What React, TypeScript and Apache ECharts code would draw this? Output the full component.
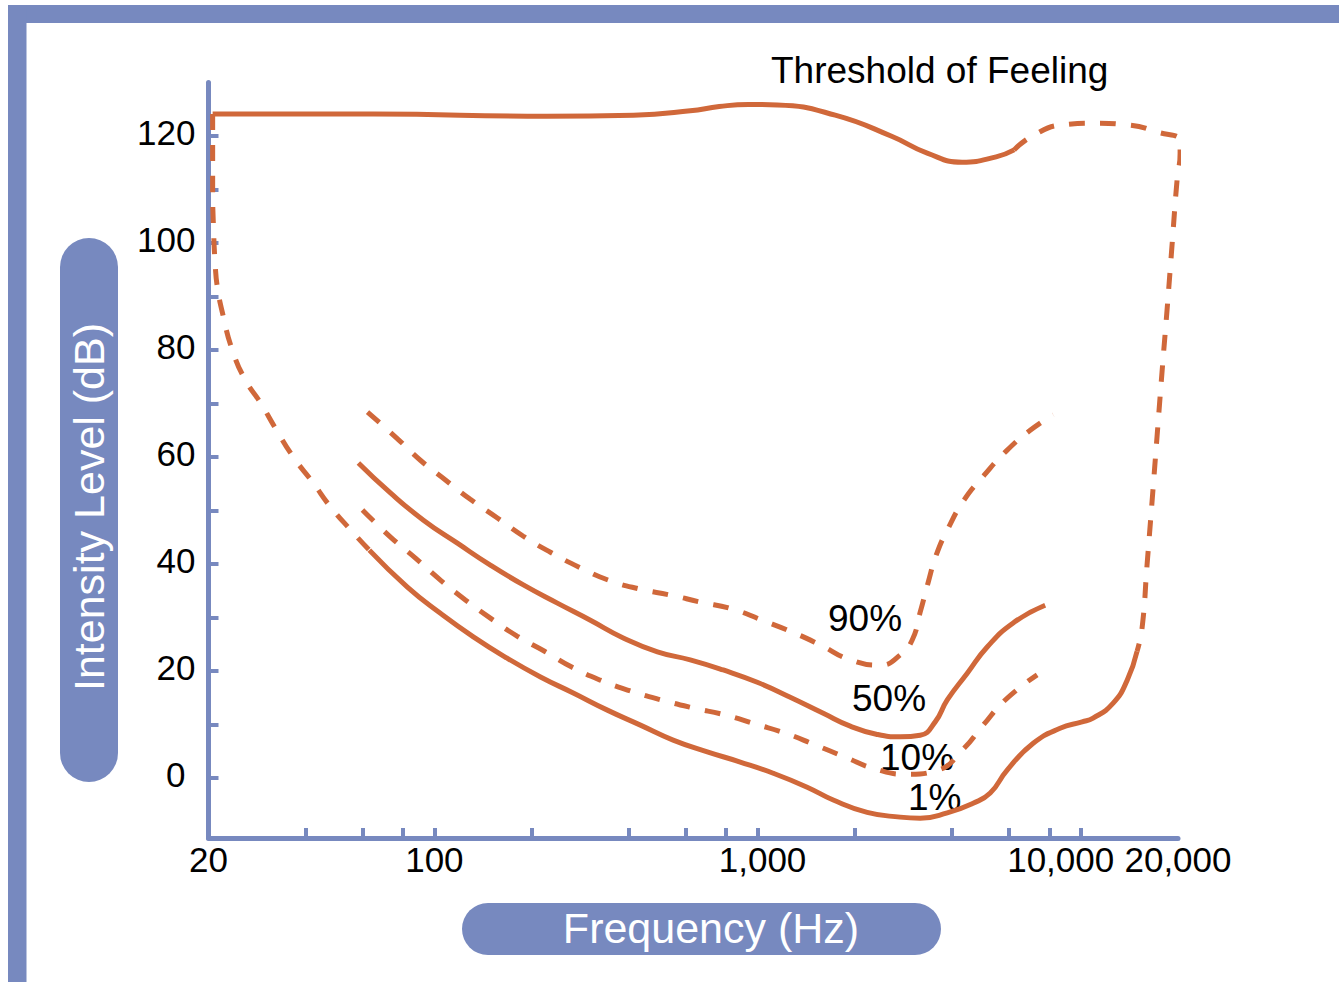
import React, { useEffect, useRef } from 'react';
import * as echarts from 'echarts';

// Threshold of feeling (solid, measured part)
const feelingHz = [20.6, 64.8, 222, 413, 619, 761, 936, 1151, 1739, 2610, 3350, 4296, 5474, 6222];
const feelingDb = [124.1, 124.1, 123.7, 123.9, 124.7, 125.5, 125.9, 125.8, 123.9, 119.9, 116.8, 115.1, 116.1, 117.4];

// Threshold of feeling / high-frequency edge (dashed, extrapolated)
const feelingDashHz = [6222, 7128, 8820, 11080, 13930, 17350, 20300, 20300, 19870, 19170, 18500, 17860, 17230, 16630, 16040, 15480, 14940];
const feelingDashDb = [117.4, 120.1, 122.1, 122.4, 122.1, 120.7, 119.1, 116.8, 111.8, 99.6, 87.5, 76.1, 63.9, 51.8, 39.8, 28.0, 23.7];

// 1% curve (solid)
const onePctHz = [62.9, 82.5, 104.4, 132, 168, 213, 269, 343, 434, 548, 699, 884, 1118, 1424, 1715, 2184, 2762, 3186, 3864, 4646, 5248, 5920, 7128, 8634, 10100, 10920, 12600, 13930, 14940];
const onePctDb = [42.6, 35.7, 30.8, 26.4, 22.4, 18.9, 15.9, 12.7, 9.9, 7.1, 4.9, 3.0, 0.9, -1.7, -4.1, -6.4, -7.3, -7.5, -6.5, -4.7, -2.8, 1.5, 6.5, 9.3, 10.5, 11.2, 14.0, 18.3, 23.7];

// 1% curve low-frequency extension (dashed)
const onePctLowHz = [20.6, 20.6, 20.7, 21.0, 21.3, 22.1, 23.7, 26.0, 29.0, 32.2, 36.6, 42.0, 47.7, 55.8, 62.9];
const onePctLowDb = [124.1, 109.9, 103.7, 95.5, 91.8, 86.9, 80.0, 74.4, 70.1, 65.4, 60.0, 55.3, 50.7, 46.0, 42.6];

// 10% curve (dashed)
const tenPctHz = [59.9, 73.6, 87.4, 104.4, 124.7, 149, 180.7, 220.6, 267, 326, 404, 504, 633, 794, 984, 1218, 1508, 1868, 2312, 2884, 3622, 4296, 4992, 5840, 7332];
const tenPctDb = [50.1, 44.9, 41.1, 37.0, 33.3, 29.9, 26.5, 23.6, 20.7, 18.3, 16.3, 14.6, 13.1, 11.8, 10.1, 8.4, 6.2, 3.9, 1.7, 0.7, 1.5, 5.2, 9.9, 14.6, 19.3];

// 50% curve (solid)
const fiftyPctHz = [58.2, 73.1, 92.5, 117.8, 149, 188.5, 240.2, 303.9, 384, 490, 619, 783, 998, 1262, 1597, 1936, 2330, 2762, 3186, 3546, 3864, 4456, 5136, 6180, 7762];
const fiftyPctDb = [58.9, 53.3, 48.2, 43.9, 39.8, 36.1, 32.7, 29.5, 26.2, 23.6, 22.1, 20.2, 17.9, 15.1, 12.1, 9.7, 8.2, 7.7, 8.0, 10.5, 14.6, 19.6, 24.5, 29.0, 32.3];

// 90% curve (dashed)
const ninetyPctHz = [62.1, 76.3, 90.5, 108.2, 129.2, 156.7, 188.5, 228.6, 282.9, 345, 434, 537, 665, 835, 1034, 1279, 1563, 1936, 2396, 2762, 3010, 3186, 3374, 3573, 3890, 4358, 5026, 5880, 6976, 8220];
const ninetyPctDb = [68.4, 63.6, 59.4, 55.7, 52.1, 48.6, 45.2, 42.2, 39.3, 37.0, 35.3, 34.2, 32.9, 31.6, 29.5, 27.3, 24.9, 22.1, 21.1, 23.0, 25.8, 31.0, 36.6, 41.7, 46.7, 52.0, 56.6, 61.1, 65.0, 67.9];

// Axes
const xTickHz = [40, 60, 80, 100, 200, 400, 600, 800, 1000, 2000, 4000, 6000, 8000, 10000];
const xLabelHz = [20, 100, 1000, 10000, 20000];
const yTickDb = [0, 10, 20, 30, 40, 50, 60, 70, 80, 90, 100, 110, 120];
const yLabelDb = [0, 20, 40, 60, 80, 100, 120];
const xMinHz = 20;
const xMaxHz = 20000;
const yMinDb = -11.2;
const yMaxDb = 130;

const curveLabels = ['90%', '50%', '10%', '1%'];
const titleText = 'Threshold of Feeling';
const xTitle = 'Frequency (Hz)';
const yTitle = 'Intensity Level (dB)';

const BLUE = '#7789bf';
const ORANGE = '#d0683a';
const FONT = '"Liberation Sans", Arial, Helvetica, sans-serif';

const toPts = (hz: number[], db: number[]) => hz.map((f, i) => [Math.log10(f), db[i]]);

function lineSeries(name: string, hz: number[], db: number[], dashed: boolean) {
  return {
    name,
    type: 'line',
    data: toPts(hz, db),
    smooth: 0.5,
    showSymbol: false,
    symbol: 'none',
    clip: false,
    silent: true,
    lineStyle: {
      color: ORANGE,
      width: 5,
      type: dashed ? [16, 15] : 'solid',
      cap: 'butt',
    },
  };
}

export default function App() {
  const ref = useRef<HTMLDivElement>(null);

  useEffect(() => {
    document.body.style.margin = '0';
    const chart = echarts.init(ref.current!, null, { renderer: 'svg' });
    const labelStyle = { color: '#000', fontSize: 35, fontFamily: FONT };

    const option: any = {
      animation: false,
      backgroundColor: '#ffffff',
      grid: {
        left: 208.5,
        right: 161,
        top: 82.5,
        bottom: 144,
        containLabel: false,
        outerBoundsMode: 'none',
      },
      xAxis: {
        type: 'value',
        min: Math.log10(xMinHz),
        max: Math.log10(xMaxHz),
        splitLine: { show: false },
        axisLine: { show: true, onZero: false, lineStyle: { color: BLUE, width: 5 } },
        axisTick: {
          show: true,
          inside: true,
          length: 10,
          lineStyle: { color: BLUE, width: 4 },
          customValues: xTickHz.map((v) => Math.log10(v)),
        },
        axisLabel: {
          ...labelStyle,
          margin: 4,
          hideOverlap: false,
          showMinLabel: true,
          showMaxLabel: true,
          customValues: xLabelHz.map((v) => Math.log10(v)),
          formatter: (v: number) => {
            const f = Math.round(Math.pow(10, v));
            const s = f.toLocaleString('en-US');
            if (f === 10000) return '{s|' + s + '}';
            if (f === 1000) return '{k|' + s + '}';
            return s;
          },
          rich: {
            s: { ...labelStyle, padding: [0, 40, 0, 0] },
            k: { ...labelStyle, padding: [0, 0, 0, 10] },
          },
        },
      },
      yAxis: {
        type: 'value',
        min: yMinDb,
        max: yMaxDb,
        splitLine: { show: false },
        axisLine: { show: true, onZero: false, lineStyle: { color: BLUE, width: 5 } },
        axisTick: {
          show: true,
          inside: true,
          length: 10,
          lineStyle: { color: BLUE, width: 4 },
          customValues: yTickDb,
        },
        axisLabel: {
          ...labelStyle,
          margin: 13,
          hideOverlap: false,
          padding: [0, 0, 7, 0],
          customValues: yLabelDb,
          formatter: (v: number) => (v === 0 ? '{z|0}' : String(v)),
          rich: {
            z: { ...labelStyle, padding: [0, 10, 0, 0] },
          },
        },
      },
      series: [
        lineSeries('Threshold of Feeling', feelingHz, feelingDb, false),
        lineSeries('Feeling (extrapolated)', feelingDashHz, feelingDashDb, true),
        lineSeries('1%', onePctHz, onePctDb, false),
        lineSeries('1% (extrapolated)', onePctLowHz, onePctLowDb, true),
        lineSeries('10%', tenPctHz, tenPctDb, true),
        lineSeries('50%', fiftyPctHz, fiftyPctDb, false),
        lineSeries('90%', ninetyPctHz, ninetyPctDb, true),
      ],
      graphic: [
        // frame
        { type: 'rect', silent: true, shape: { x: 8, y: 5, width: 1331, height: 18 }, style: { fill: BLUE } },
        { type: 'rect', silent: true, shape: { x: 8, y: 5, width: 18.5, height: 977 }, style: { fill: BLUE } },
        // y title pill
        { type: 'rect', silent: true, shape: { x: 60, y: 238, width: 58, height: 544, r: 29 }, style: { fill: BLUE } },
        {
          type: 'text', silent: true, x: 89, y: 507, rotation: Math.PI / 2,
          style: { text: yTitle, fill: '#ffffff', font: '43px ' + FONT, textAlign: 'center', textVerticalAlign: 'middle', align: 'center', verticalAlign: 'middle' },
        },
        // x title pill
        { type: 'rect', silent: true, shape: { x: 462, y: 903, width: 479, height: 52, r: 26 }, style: { fill: BLUE } },
        {
          type: 'text', silent: true, x: 711, y: 928,
          style: { text: xTitle, fill: '#ffffff', font: '43px ' + FONT, textAlign: 'center', textVerticalAlign: 'middle', align: 'center', verticalAlign: 'middle' },
        },
        // title
        {
          type: 'text', silent: true, x: 771, y: 70,
          style: { text: titleText, fill: '#000', font: '37px ' + FONT, textAlign: 'left', textVerticalAlign: 'middle', align: 'left', verticalAlign: 'middle' },
        },
        // curve labels
        ...[[828, 618], [852, 698], [880, 757], [908, 797]].map((p, i) => ({
          type: 'text', silent: true, x: p[0], y: p[1],
          style: { text: curveLabels[i], fill: '#000', font: '37px ' + FONT, textAlign: 'left', textVerticalAlign: 'middle', align: 'left', verticalAlign: 'middle' },
        })),
      ],
    };

    chart.setOption(option);
    return () => chart.dispose();
  }, []);

  return (
    <div
      ref={ref}
      style={{ position: 'absolute', left: 0, top: 0, width: 1339, height: 982, background: '#fff' }}
    />
  );
}
